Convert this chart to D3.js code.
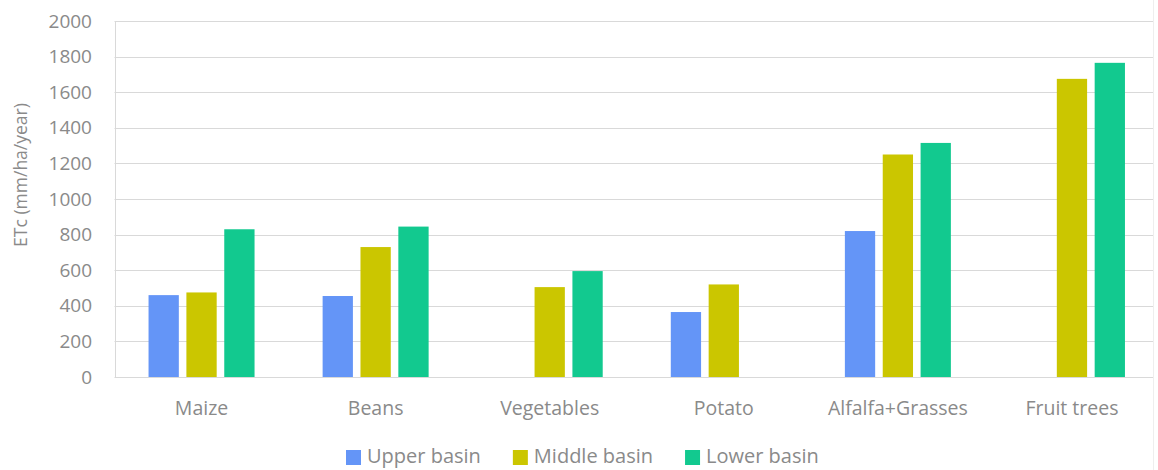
<!DOCTYPE html>
<html>
<head>
<meta charset="utf-8">
<script src="https://cdn.jsdelivr.net/npm/d3@7"></script>
<style>
  html, body { margin: 0; padding: 0; background: #fff; }
  svg { display: block; font-family: "Open Sans", "Noto Sans", sans-serif; }
</style>
</head>
<body>
<svg id="chart" width="1158" height="470"></svg>
<script>
// Crop categories along the x axis
const categories = ["Maize", "Beans", "Vegetables", "Potato", "Alfalfa+Grasses", "Fruit trees"];
// Series (basins)
const seriesNames = ["Upper basin", "Middle basin", "Lower basin"];
// Crop evapotranspiration per basin, mm/ha/year (null = not grown)
const upperBasin  = [460, 455, null, 365, 820, null];
const middleBasin = [475, 730, 505, 520, 1250, 1675];
const lowerBasin  = [830, 845, 595, null, 1315, 1765];
const yTicks = [0, 200, 400, 600, 800, 1000, 1200, 1400, 1600, 1800, 2000];
const seriesColors = ["#6495f7", "#cbc600", "#12c98f"];

const seriesValues = [upperBasin, middleBasin, lowerBasin];
const svg = d3.select("#chart");

const plotLeft = 114.5, plotRight = 1159, plotTop = 21, plotBottom = 377;

const x0 = d3.scaleBand().domain(categories).range([plotLeft, plotRight]).padding(0);
const groupW = 106;
const x1 = d3.scaleBand().domain(seriesNames)
  .range([(x0.bandwidth() - groupW) / 2, (x0.bandwidth() + groupW) / 2])
  .paddingInner(0.2);
const y = d3.scaleLinear().domain([0, 2000]).range([plotBottom, plotTop]);

const textColor = "#8a8a8a";
const gridColor = "#d9d9d9";

// Horizontal gridlines
svg.append("g")
  .selectAll("line")
  .data(yTicks)
  .join("line")
  .attr("x1", plotLeft).attr("x2", 1153)
  .attr("y1", d => Math.round(y(d)) + 0.5).attr("y2", d => Math.round(y(d)) + 0.5)
  .attr("stroke", gridColor).attr("stroke-width", 1);

// Left border of the plot area and outer right edge
svg.append("line")
  .attr("x1", 115.5).attr("x2", 115.5)
  .attr("y1", Math.round(y(2000)) + 0.5).attr("y2", Math.round(y(0)) + 0.5)
  .attr("stroke", gridColor);
svg.append("line")
  .attr("x1", 1153.5).attr("x2", 1153.5)
  .attr("y1", 0).attr("y2", 470)
  .attr("stroke", "#eeeeee");

// Y axis tick labels
const yAxis = d3.axisLeft(y).tickValues(yTicks).tickSize(0).tickPadding(0).tickFormat(d3.format("d"));
const yg = svg.append("g").attr("transform", "translate(92,0)").call(yAxis);
yg.select(".domain").remove();
yg.selectAll("text")
  .attr("fill", textColor)
  .style("font-size", "19px")
  .style("font-family", "'Open Sans', sans-serif");

// Y axis title
svg.append("text")
  .attr("transform", "translate(27,175) rotate(-90)")
  .attr("text-anchor", "middle")
  .attr("fill", textColor)
  .style("font-size", "17.5px")
  .text("ETc (mm/ha/year)");

// Bars
const groups = svg.append("g")
  .selectAll("g")
  .data(categories)
  .join("g")
  .attr("transform", d => `translate(${x0(d)},0)`);

groups.selectAll("rect")
  .data((c, i) => seriesNames.map((s, j) => ({ s, j, v: seriesValues[j][i] })).filter(d => d.v != null))
  .join("rect")
  .attr("x", d => x1(d.s))
  .attr("width", x1.bandwidth())
  .attr("y", d => y(d.v))
  .attr("height", d => y(0) - y(d.v))
  .attr("fill", d => seriesColors[d.j]);

// X axis category labels
const xAxis = d3.axisBottom(x0).tickSize(0).tickPadding(0);
const xg = svg.append("g").attr("transform", "translate(0,401)").call(xAxis);
xg.select(".domain").remove();
xg.selectAll("text")
  .attr("fill", textColor)
  .style("font-size", "19.5px")
  .style("font-family", "'Open Sans', sans-serif");

// Legend
const legend = svg.append("g").attr("transform", "translate(346,0)");
let lx = 0;
seriesNames.forEach((name, j) => {
  legend.append("rect")
    .attr("x", lx).attr("y", 450)
    .attr("width", 15).attr("height", 15)
    .attr("fill", seriesColors[j]);
  const t = legend.append("text")
    .attr("x", lx + 21).attr("y", 463)
    .attr("fill", textColor)
    .style("font-size", "20px")
    .text(name);
  lx += 21 + t.node().getComputedTextLength() + 32;
});
</script>
</body>
</html>
